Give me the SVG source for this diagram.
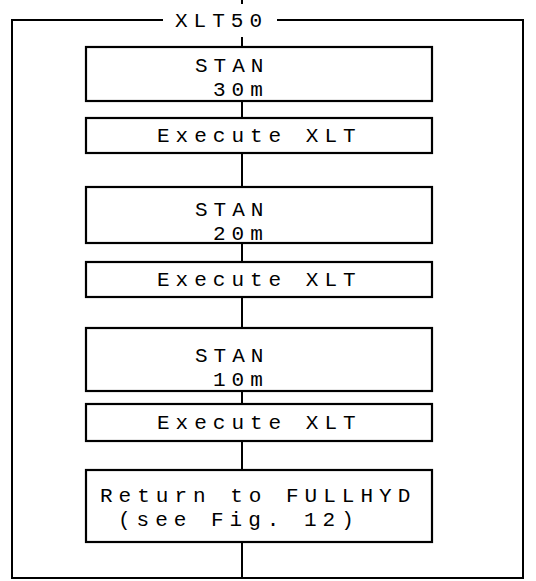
<svg xmlns="http://www.w3.org/2000/svg" width="536" height="581" viewBox="0 0 536 581">
<style>
.b{fill:#fff;stroke:#000;stroke-width:2.2}
.c{stroke:#000;stroke-width:2;fill:none}
text{font-family:"Liberation Mono","DejaVu Sans Mono",monospace;font-size:21px;letter-spacing:6px;fill:#000}
</style>
<rect width="536" height="581" fill="#fff"/>
<g id="frame">
<path class="c" d="M163,20 H12 V578 H523 V20 H277" stroke-width="2.5"/>
<text x="175" y="27">XLT50</text>
</g>
<g id="connectors">
<path class="c" d="M242,0 V4 M242,37 V47 M242,101 V118 M242,153 V187 M242,243 V262 M242,297 V328 M242,391 V404 M242,441 V470 M242,542 V578"/>
</g>
<g id="stan30">
<rect class="b" x="86" y="47" width="346" height="54"/>
<text><tspan x="195" y="72">STAN</tspan><tspan x="213" y="96">30m</tspan></text>
</g>
<g id="exec1">
<rect class="b" x="86" y="118" width="346" height="35"/>
<text x="157" y="142">Execute XLT</text>
</g>
<g id="stan20">
<rect class="b" x="86" y="187" width="346" height="56"/>
<text><tspan x="195" y="216">STAN</tspan><tspan x="213" y="240">20m</tspan></text>
</g>
<g id="exec2">
<rect class="b" x="86" y="262" width="346" height="35"/>
<text x="157" y="286">Execute XLT</text>
</g>
<g id="stan10">
<rect class="b" x="86" y="328" width="346" height="63"/>
<text><tspan x="195" y="362">STAN</tspan><tspan x="213" y="386">10m</tspan></text>
</g>
<g id="exec3">
<rect class="b" x="86" y="404" width="346" height="37"/>
<text x="157" y="429">Execute XLT</text>
</g>
<g id="return">
<rect class="b" x="86" y="470" width="346" height="72"/>
<text><tspan x="100" y="502">Return to FULLHYD</tspan><tspan x="118" y="526">(see Fig. 12)</tspan></text>
</g>
</svg>
